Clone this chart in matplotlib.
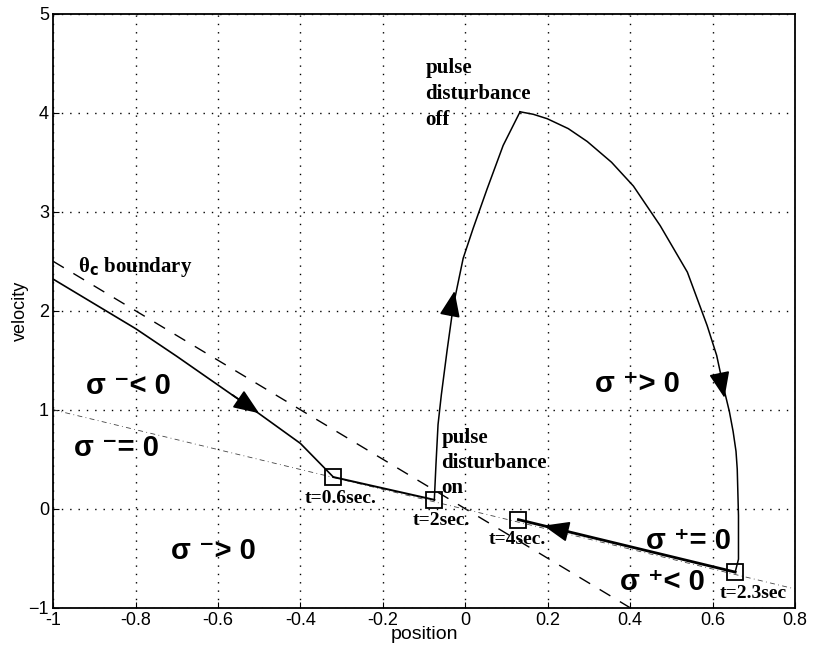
import matplotlib
matplotlib.use('Agg')
import matplotlib.pyplot as plt
import numpy as np

# theta_c boundary (dashed) and sigma = 0 line (thin dash-dot)
bound_x = [-1.0, 0.4]
bound_y = [2.5, -1.0]
sig0_x = [-1.0, 0.8]
sig0_y = [1.0, -0.81]

# trajectory pieces
reach_x = [-1.0, -0.9, -0.8, -0.7, -0.6, -0.5, -0.4, -0.32]
reach_y = [2.32, 2.07, 1.82, 1.54, 1.25, 0.96, 0.66, 0.32]
slide1_x = [-0.32, -0.075]
slide1_y = [0.32, 0.09]
up_x = [-0.075, -0.071, -0.066, -0.058, -0.044, -0.029, -0.015, -0.005, 0.019, 0.053, 0.092, 0.133]
up_y = [0.09, 0.45, 0.85, 1.15, 1.6, 2.05, 2.33, 2.53, 2.83, 3.23, 3.67, 4.01]
down_x = [0.133, 0.165, 0.199, 0.25, 0.296, 0.355, 0.408, 0.473, 0.539, 0.587, 0.61, 0.626,
          0.641, 0.65, 0.657, 0.66, 0.663, 0.663, 0.655]
down_y = [4.01, 3.985, 3.94, 3.84, 3.71, 3.5, 3.26, 2.86, 2.39, 1.85, 1.55, 1.24,
          0.98, 0.78, 0.58, 0.40, -0.07, -0.51, -0.64]
slide2_x = [0.655, 0.129]
slide2_y = [-0.64, -0.11]

# time markers
t_x = [-0.32, -0.075, 0.129, 0.655]
t_y = [0.32, 0.09, -0.11, -0.64]
t_lbl = ['t=0.6sec.', 't=2sec.', 't=4sec.', 't=2.3sec']
t_lx = [-0.303, -0.058, 0.126, 0.70]
t_ly = [0.10, -0.12, -0.31, -0.86]

# arrows (tail -> head)
arr_tail = [(-0.565, 1.15), (-0.037, 1.96), (0.617, 1.36), (0.25, -0.232)]
arr_head = [(-0.5, 0.965), (-0.026, 2.2), (0.629, 1.12), (0.19, -0.171)]

# region labels
sig_lbl = ['σ ⁻< 0', 'σ ⁻= 0', 'σ ⁻> 0', 'σ ⁺> 0', 'σ ⁺= 0', 'σ ⁺< 0']
sig_x = [-0.818, -0.845, -0.612, 0.417, 0.541, 0.478]
sig_y = [1.24, 0.61, -0.43, 1.26, -0.33, -0.74]

fig = plt.figure(figsize=(8.17, 6.57), dpi=100)
ax = fig.add_axes([0.065, 0.075, 0.908, 0.904])

ax.plot(bound_x, bound_y, color='black', linestyle=(0, (9, 8)), linewidth=1.0)
ax.plot(sig0_x, sig0_y, color='#444444', linestyle=(0, (6, 4, 1, 4)), linewidth=0.6)

ax.plot(reach_x, reach_y, color='black', linewidth=1.2)
ax.plot(slide1_x, slide1_y, color='black', linewidth=1.4)
ax.plot(up_x, up_y, color='black', linewidth=1.1)
ax.plot(down_x, down_y, color='black', linewidth=1.1)
ax.plot(slide2_x, slide2_y, color='black', linewidth=2.0)

ax.plot(t_x, t_y, linestyle='none', marker='s', markersize=11,
        markerfacecolor='none', markeredgecolor='black', markeredgewidth=1.3)

for (tx, ty), (hx, hy) in zip(arr_tail, arr_head):
    ax.annotate('', xy=(hx, hy), xytext=(tx, ty),
                arrowprops=dict(arrowstyle='-|>,head_length=1.0,head_width=0.4',
                                mutation_scale=16, color='black', lw=1.2,
                                shrinkA=0, shrinkB=0))

serif = 'Liberation Serif'
for lbl, lx, ly in zip(t_lbl, t_lx, t_ly):
    ax.text(lx, ly, lbl, ha='center', va='center', fontsize=14,
            fontweight='bold', family=serif)

for lbl, lx, ly in zip(sig_lbl, sig_x, sig_y):
    ax.text(lx, ly, lbl, ha='center', va='center', fontsize=21,
            fontweight='bold', family=['Liberation Sans', 'DejaVu Sans'])

ax.text(-0.94, 2.44, r'θ$_{\mathbf{c}}$ boundary', ha='left', va='center',
        fontsize=15, fontweight='bold', family=serif)
ax.text(-0.097, 4.55, 'pulse\ndisturbance\noff', ha='left', va='top',
        fontsize=15, fontweight='bold', family=serif, linespacing=1.4)
ax.text(-0.058, 0.82, 'pulse\ndisturbance\non', ha='left', va='top',
        fontsize=15, fontweight='bold', family=serif, linespacing=1.35)

ax.set_xlim(-1, 0.8)
ax.set_ylim(-1, 5)
ax.set_xticks(np.arange(-1, 0.81, 0.2))
ax.set_xticklabels(['-1', '-0.8', '-0.6', '-0.4', '-0.2', '0', '0.2', '0.4', '0.6', '0.8'])
ax.set_yticks(range(-1, 6))
ax.grid(True, color='black', linestyle=(0, (1, 5)), linewidth=1.0)
ax.tick_params(labelsize=13, direction='in', length=4, pad=3)
for lab in ax.get_xticklabels() + ax.get_yticklabels():
    lab.set_family('Liberation Sans')
for sp in ax.spines.values():
    sp.set_linewidth(1.3)
ax.set_xlabel('position', fontsize=14, family='Liberation Sans', labelpad=-2)
ax.set_ylabel('velocity', fontsize=13, family='Liberation Sans', labelpad=0)

fig.savefig('out.png', dpi=100)
